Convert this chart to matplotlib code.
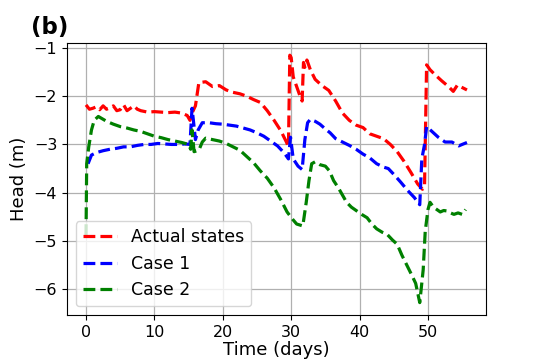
import matplotlib
matplotlib.use("Agg")
import matplotlib.pyplot as plt

t_actual = [0, 0.5, 1, 1.5, 2, 2.5, 3, 3.5, 4, 4.5, 5, 5.5, 6, 6.5, 7, 7.5, 8, 9, 10, 11,
            12, 13, 14, 14.8, 15.2, 15.5, 16, 16.5, 17.5, 18.5, 19.5, 20.5, 21.5, 22.5,
            23.5, 24.5, 25.5, 26.5, 27.5, 28.5, 29.3, 29.6, 29.8, 30.0, 30.3, 30.8, 31.3,
            31.6, 31.8, 32.0, 32.3, 32.8, 33.5, 34.5, 35.5, 36.5, 37.5, 38.5, 39.5, 40.5,
            41.5, 42.5, 43.5, 44.5, 45.5, 46.5, 47.5, 48.5, 49.2, 49.5, 49.8, 50.3, 51,
            52, 53, 53.7, 54.3, 55, 55.7]
h_actual = [-2.18, -2.27, -2.25, -2.22, -2.28, -2.2, -2.27, -2.24, -2.2, -2.3, -2.28, -2.18,
            -2.3, -2.25, -2.2, -2.27, -2.3, -2.33, -2.32, -2.33, -2.34, -2.33, -2.35, -2.4,
            -2.5, -2.35, -2.2, -1.72, -1.7, -1.8, -1.78, -1.87, -1.92, -1.95, -2.0, -2.07,
            -2.13, -2.3, -2.5, -2.72, -2.95, -3.05, -1.15, -1.2, -1.6, -1.8, -2.0, -2.1,
            -1.3, -1.4, -1.25, -1.45, -1.65, -1.78, -1.88, -2.1, -2.35, -2.5, -2.6, -2.65,
            -2.78, -2.83, -2.88, -3.0, -3.15, -3.35, -3.58, -3.82, -3.93, -3.85, -1.35,
            -1.45, -1.55, -1.68, -1.8, -1.9, -1.77, -1.82, -1.87]

t_case1 = [0.3, 0.8, 1.5, 2.5, 3.5, 4.5, 5.5, 6.5, 7.5, 8.5, 9.5, 10.5, 11.5, 12.5, 13.5,
           14.5, 15.2, 15.5, 15.7, 16.0, 16.4, 17, 18, 19, 20, 21, 22, 23, 24, 25, 26, 27,
           28, 29, 29.6, 29.9, 30.3, 31.0, 31.6, 32.0, 32.4, 32.8, 33.5, 34.2, 35, 35.7,
           36.5, 37.5, 38.5, 39.5, 40.5, 41.5, 42.5, 43.5, 44.2, 45, 46, 47, 48, 48.8,
           49.1, 49.5, 49.8, 50.5, 51.5, 52.5, 53.5, 54.5, 55, 55.7]
h_case1 = [-3.4, -3.22, -3.17, -3.13, -3.1, -3.08, -3.05, -3.05, -3.02, -3.0, -3.0, -2.98,
           -2.99, -3.0, -3.0, -2.99, -3.0, -2.25, -2.5, -2.9, -2.7, -2.55, -2.55, -2.57,
           -2.58, -2.6, -2.62, -2.66, -2.7, -2.76, -2.83, -2.93, -3.03, -3.18, -3.3, -2.85,
           -3.3, -3.45, -3.52, -2.9, -2.55, -2.48, -2.52, -2.58, -2.68, -2.76, -2.88, -2.95,
           -3.02, -3.1, -3.2, -3.28, -3.4, -3.47, -3.5, -3.62, -3.78, -3.95, -4.1, -4.25,
           -3.3, -3.0, -2.63, -2.72, -2.85, -2.95, -2.95, -3.03, -3.0, -2.96]

t_case2 = [0, 0.1, 0.4, 0.8, 1.2, 1.8, 3, 4, 5, 6, 7, 8, 9, 10, 11, 12, 13, 14, 15, 15.3,
           15.5, 15.8, 16.5, 17.0, 17.5, 18.5, 19.5, 20.5, 21.5, 22.5, 23.5, 24.5, 25.5,
           26.5, 27.5, 28.5, 29.4, 30.2, 30.8, 31.7, 32.2, 32.6, 33.0, 33.5, 34.2, 35.0,
           35.6, 36.2, 36.9, 37.5, 38.1, 38.8, 39.6, 40.3, 41.1, 41.8, 42.5, 43.3, 44,
           44.8, 45.5, 46.2, 46.9, 47.6, 48.2, 48.8, 49.3, 49.6, 50.0, 50.3, 50.8, 51.3,
           51.8, 52.3, 52.8, 53.3, 53.8, 54.4, 55.0, 55.5]
h_case2 = [-4.9, -3.4, -3.05, -2.7, -2.5, -2.42, -2.52, -2.58, -2.63, -2.66, -2.7, -2.73,
           -2.78, -2.83, -2.86, -2.9, -2.93, -2.96, -3.0, -3.1, -2.7, -3.15, -3.12, -2.95,
           -2.87, -2.9, -2.93, -2.98, -3.05, -3.12, -3.25, -3.38, -3.55, -3.7, -3.9, -4.15,
           -4.4, -4.55, -4.65, -4.69, -4.2, -3.75, -3.4, -3.36, -3.42, -3.45, -3.55, -3.75,
           -3.9, -4.05, -4.2, -4.3, -4.38, -4.45, -4.52, -4.65, -4.75, -4.82, -4.86, -4.98,
           -5.07, -5.3, -5.5, -5.7, -5.88, -6.28, -5.6, -4.8, -4.35, -4.2, -4.3, -4.35,
           -4.4, -4.37, -4.38, -4.42, -4.45, -4.42, -4.45, -4.35]

fig = plt.figure(figsize=(5.4, 3.6), dpi=100)
ax = fig.add_axes([0.124, 0.125, 0.776, 0.756])

ax.plot(t_actual, h_actual, 'r--', lw=2.3, label='Actual states')
ax.plot(t_case1, h_case1, 'b--', lw=2.3, label='Case 1')
ax.plot(t_case2, h_case2, 'g--', lw=2.3, label='Case 2')

ax.grid(True, color='#b0b0b0', lw=0.9)
ax.tick_params(labelsize=11.5)
ax.set_xlabel('Time (days)', fontsize=13, labelpad=1)
ax.set_ylabel('Head (m)', fontsize=13)
ax.legend(loc='lower left', fontsize=12.5)

fig.text(0.058, 0.905, '(b)', fontsize=16.5, fontweight='bold')

fig.savefig('out.png', dpi=100)
plt.close(fig)
